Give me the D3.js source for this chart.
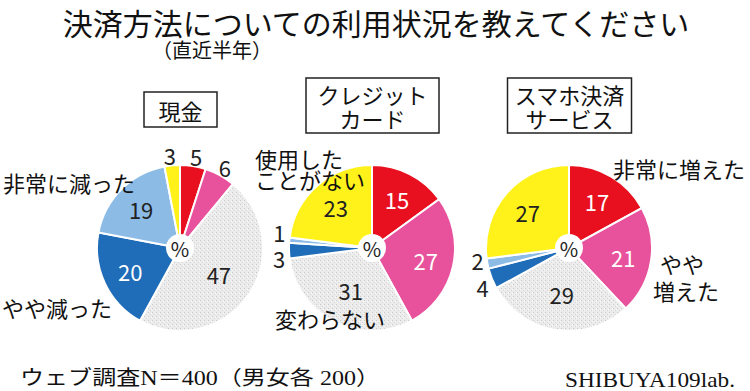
<!DOCTYPE html>
<html>
<head>
<meta charset="utf-8">
<script src="https://cdn.jsdelivr.net/npm/d3@7"></script>
<style>
  body { margin: 0; background: #fff; }
  text { font-family: "Noto Sans CJK JP", "Noto Sans", sans-serif; }
</style>
</head>
<body>
<script>
// 決済方法の利用状況（直近半年）
var categories = ["非常に増えた", "やや増えた", "変わらない", "やや減った", "非常に減った", "使用したことがない"];
var methods = [["現金"], ["クレジット", "カード"], ["スマホ決済", "サービス"]];
var cash = [5, 6, 47, 20, 19, 3];
var credit = [15, 27, 31, 3, 1, 23];
var smartphone = [17, 21, 29, 4, 2, 27];
var series = [cash, credit, smartphone];

var colors = ["#e8101e", "#e8529c", "url(#speckle)", "#1f6cb8", "#8cbce6", "#fff21a"];
var valueColor = ["#fff", "#fff", "#222", "#fff", "#222", "#222"];

var width = 750, height = 391;
var r = 83;
var centers = [[180, 248], [372, 248], [569, 248]];
var boxW = [73, 133, 124];

// category annotations placed beside the pies
var notes = [
  { lines: ["非常に減った"], x: 3, y: 182 },
  { lines: ["やや減った"], x: 2, y: 307 },
  { lines: ["使用した", "ことがない"], x: 255, y: 158 },
  { lines: ["変わらない"], x: 275, y: 318 },
  { lines: ["非常に増えた"], x: 613, y: 168 },
  { lines: ["やや"], x: 660, y: 263 },
  { lines: ["増えた"], x: 653, y: 290 }
];

var svg = d3.select("body").append("svg").attr("width", width).attr("height", height);

var pat = svg.append("defs").append("pattern").attr("id", "speckle")
  .attr("patternUnits", "userSpaceOnUse").attr("width", 4).attr("height", 4);
pat.append("rect").attr("width", 4).attr("height", 4).attr("fill", "#ececec");
pat.append("rect").attr("x", 0).attr("y", 0).attr("width", 1).attr("height", 1).attr("fill", "#c9c9c9");
pat.append("rect").attr("x", 2).attr("y", 2).attr("width", 1).attr("height", 1).attr("fill", "#d6d6d6");
pat.append("rect").attr("x", 3).attr("y", 1).attr("width", 1).attr("height", 1).attr("fill", "#fafafa");

// title
svg.append("text").attr("x", 376).attr("y", 22).attr("text-anchor", "middle")
  .attr("dominant-baseline", "central").attr("font-size", 30).attr("fill", "#111")
  .text("決済方法についての利用状況を教えてください");
svg.append("text").attr("x", 212).attr("y", 49).attr("text-anchor", "middle")
  .attr("dominant-baseline", "central").attr("font-size", 20).attr("fill", "#111")
  .text("（直近半年）");

var pie = d3.pie().sort(null).value(function(d) { return d; });
var arc = d3.arc().innerRadius(0).outerRadius(r);

series.forEach(function(vals, k) {
  var g = svg.append("g").attr("transform", "translate(" + centers[k][0] + "," + centers[k][1] + ")");
  var arcs = pie(vals);

  g.selectAll("path").data(arcs).enter().append("path")
    .attr("d", arc)
    .attr("fill", function(d, i) { return colors[i]; })
    .attr("stroke", "#fff").attr("stroke-width", 2);

  // value labels: inside for large slices, outside for small ones
  var labels = arcs.map(function(d, i) {
    var a = (d.startAngle + d.endAngle) / 2;
    var out = d.value <= 6;
    var lr = out ? r + 10 : (i == 2 ? 47 : 55);
    return { v: d.value, i: i, out: out, x: lr * Math.sin(a), y: -lr * Math.cos(a) };
  });
  // push overlapping outside labels apart
  for (var n = 0; n < 30; n++) {
    labels.forEach(function(a) {
      labels.forEach(function(b) {
        if (a === b || !a.out || !b.out) return;
        if (Math.abs(a.x - b.x) < 26 && Math.abs(a.y - b.y) < 26) {
          if (Math.abs(a.x) < Math.abs(a.y)) {
            var s = a.x < b.x ? -0.5 : 0.5;
            a.x += s; b.x -= s;
          } else {
            var t = a.y < b.y ? -0.5 : 0.5;
            a.y += t; b.y -= t;
          }
        }
      });
    });
  }
  g.selectAll("text.val").data(labels).enter().append("text")
    .attr("class", "val")
    .attr("x", function(d) { return d.x; })
    .attr("y", function(d) { return d.y; })
    .attr("text-anchor", "middle").attr("dominant-baseline", "central")
    .attr("font-size", 22)
    .attr("fill", function(d) { return d.out ? "#222" : valueColor[d.i]; })
    .text(function(d) { return d.v; });

  g.append("circle").attr("r", 14).attr("fill", "#fff");
  g.append("text").attr("y", 0).attr("text-anchor", "middle").attr("dominant-baseline", "central")
    .attr("font-size", 20).attr("fill", "#222").text("%");

  // method box
  var lines = methods[k];
  var bh = lines.length == 1 ? 35 : 55;
  var by = lines.length == 1 ? 92 : 78;
  svg.append("rect")
    .attr("x", centers[k][0] - boxW[k] / 2 + 0.5).attr("y", by)
    .attr("width", boxW[k]).attr("height", bh)
    .attr("fill", "#fff").attr("stroke", "#222").attr("stroke-width", 1.5);
  lines.forEach(function(t, j) {
    svg.append("text").attr("x", centers[k][0] + 0.5)
      .attr("y", by + (lines.length == 1 ? bh / 2 : 16 + j * 24))
      .attr("text-anchor", "middle").attr("dominant-baseline", "central")
      .attr("font-size", 22).attr("fill", "#111").text(t);
  });
});

notes.forEach(function(nt) {
  nt.lines.forEach(function(t, j) {
    svg.append("text").attr("x", nt.x).attr("y", nt.y + j * 21)
      .attr("dominant-baseline", "central").attr("font-size", 22)
      .attr("fill", "#111").text(t);
  });
});

// footer
svg.append("text").attr("x", 20).attr("y", 378).attr("dominant-baseline", "central")
  .attr("font-size", 20).attr("fill", "#111")
  .attr("textLength", 360).attr("lengthAdjust", "spacingAndGlyphs")
  .style("font-family", "'Liberation Serif', 'Noto Sans CJK JP', serif")
  .text("ウェブ調査N＝400（男女各 200）");
svg.append("text").attr("x", 565).attr("y", 380).attr("dominant-baseline", "central")
  .attr("font-size", 21).attr("fill", "#111")
  .attr("textLength", 170).attr("lengthAdjust", "spacingAndGlyphs")
  .style("font-family", "'Liberation Serif', serif")
  .text("SHIBUYA109lab.");
</script>
</body>
</html>
